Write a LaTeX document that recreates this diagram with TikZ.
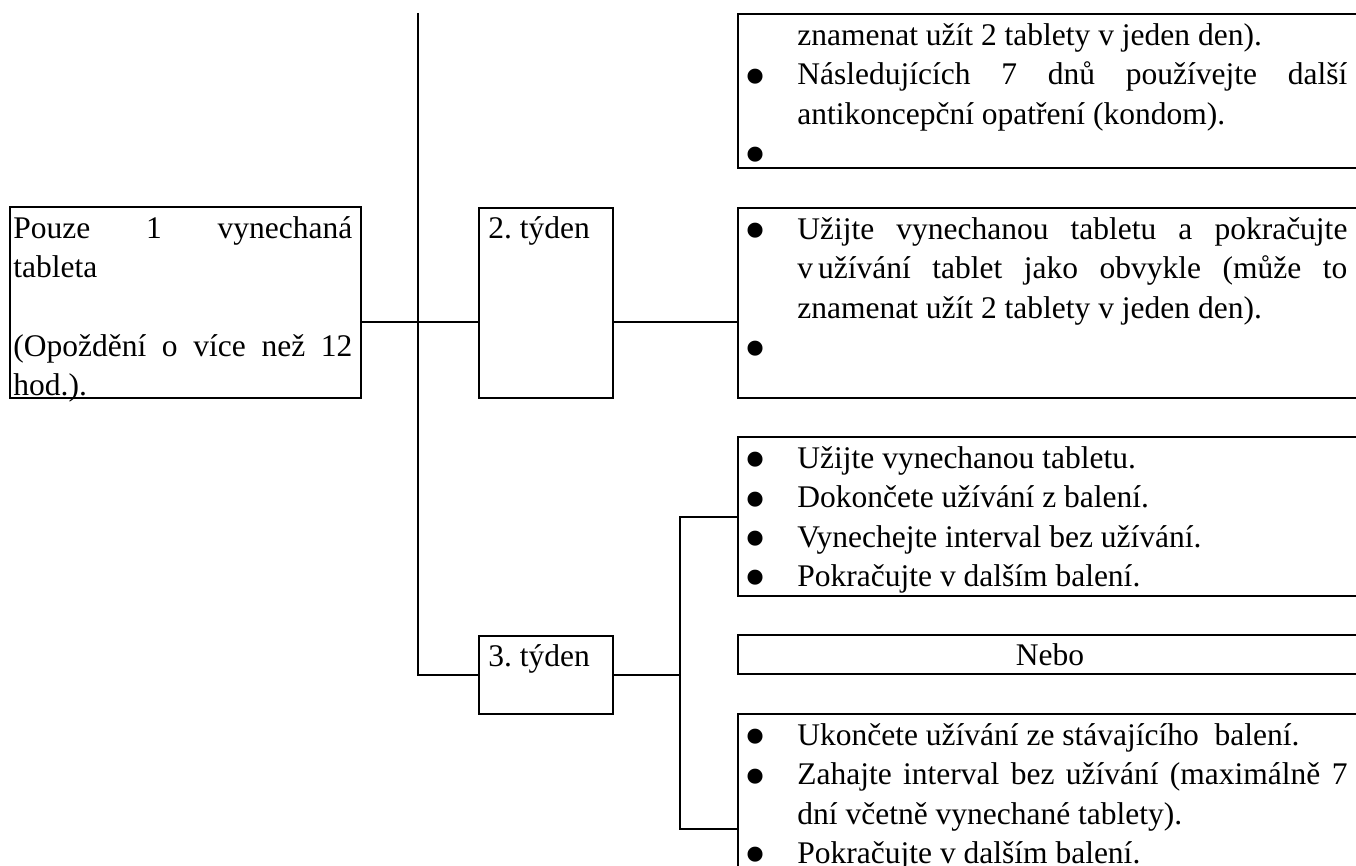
\documentclass[tikz,border=0pt]{standalone}
\usepackage{fontspec}
\setmainfont{Liberation Serif}
\usepackage{graphicx}
\newcommand\bul{\strut\makebox[24.5pt][l]{\hspace{-2pt}\smash{\raisebox{-6.2pt}{\scalebox{2}{•}}}}}
\newcommand\ind{\strut\hspace*{24.5pt}}
\newcommand\Jr[1]{\makebox[275pt][s]{#1}}
\newcommand\Jl[1]{\strut\makebox[169.5pt][s]{#1}}
\begin{document}
\begin{tikzpicture}[x=0.5pt,y=-0.5pt,
  box/.style={draw, line width=1.1pt, inner sep=0pt, anchor=north west},
  txt/.style={inner sep=0pt, anchor=north west, align=left, font=\fontsize{15.75}{19.65}\selectfont},
  conn/.style={line width=1.1pt}]
\useasboundingbox (0,0) rectangle (1356,866);
\clip (0,0) rectangle (1356,866);
% boxes
\node[box, minimum width=175.5pt, minimum height=95.5pt] (lb) at (9,206) {};
\node[box, minimum width=67pt, minimum height=95pt] (t2) at (478,207) {};
\node[box, minimum width=67pt, minimum height=39pt] (t3) at (478,635) {};
\node[box, minimum width=350pt, minimum height=77pt] (b1) at (737,13) {};
\node[box, minimum width=350pt, minimum height=95pt] (b2) at (737,207) {};
\node[box, minimum width=350pt, minimum height=79.5pt] (b3) at (737,436) {};
\node[box, minimum width=350pt, minimum height=19.5pt] (nebo) at (737,634) {};
\node[box, minimum width=350pt, minimum height=116pt] (b4) at (737,713) {};
% texts
\node[txt] (lbtext) at (13,210.5) {\Jl{Pouze 1 vynechaná}\\ \strut tableta\\ \strut\\ \Jl{(Opoždění o více než 12}\\ \strut hod.).};
\node[txt] (t2text) at (488,211) {\strut 2.\ týden};
\node[txt] (t3text) at (488,639) {\strut 3.\ týden};
\node[txt] (b1text) at (748,17.5) {\ind znamenat užít 2 tablety v jeden den).\\
  \bul\Jr{Následujících 7 dnů používejte další}\\
  \ind antikoncepční opatření (kondom).\\
  \bul};
\node[txt] (b2text) at (748,211.5) {\bul\Jr{Užijte vynechanou tabletu a pokračujte}\\
  \ind\Jr{v\kern2.5pt užívání tablet jako obvykle (může to}\\
  \ind znamenat užít 2 tablety v jeden den).\\
  \bul};
\node[txt] (b3text) at (748,440.5) {\bul Užijte vynechanou tabletu.\\
  \bul Dokončete užívání z balení.\\
  \bul Vynechejte interval bez užívání.\\
  \bul Pokračujte v dalším balení.};
\node[txt, anchor=base] (nebotext) at (1050,665) {Nebo};
\node[txt] (b4text) at (748,717.5) {\bul Ukončete užívání ze stávajícího\ \ balení.\\
  \bul\Jr{Zahajte interval bez užívání (maximálně 7}\\
  \ind dní včetně vynechané tablety).\\
  \bul Pokračujte v dalším balení.};
% connectors
\coordinate (vtop) at (418,13);
\coordinate (j1) at (418,322);
\coordinate (j3b) at (680,829);
\draw[conn] (lb.east |- j1) -- (t2.west |- j1);
\draw[conn] (t2.east |- j1) -- (b2.west |- j1);
\draw[conn] (vtop) |- (t3.west);
\draw[conn] (t3.east) -- (t3.east -| j3b);
\draw[conn] (b3.west) -| (j3b) -- (b4.west |- j3b);
\end{tikzpicture}
\end{document}
